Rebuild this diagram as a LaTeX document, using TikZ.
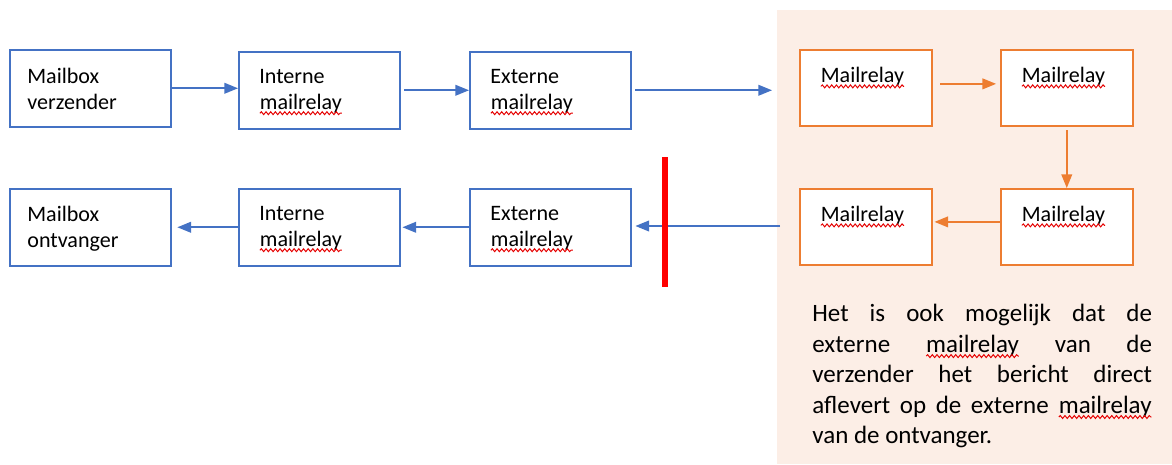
\documentclass[tikz,border=0pt]{standalone}
\usepackage{fontspec}
\setmainfont{Carlito}
\usetikzlibrary{arrows.meta,decorations.pathmorphing}

\definecolor{boxblue}{HTML}{4472C4}
\definecolor{boxorange}{HTML}{ED7D31}
\definecolor{panelfill}{HTML}{FCEEE6}

% red wavy underline
\newcommand{\squig}[1]{\tikz[baseline=(w.base)]{\node[inner sep=0pt,outer sep=0pt] (w) {#1};
  \draw[red!90!black,line width=0.5pt,decorate,decoration={snake,amplitude=0.75pt,segment length=2.4pt}]
  ([yshift=-2pt]w.base west) -- ([yshift=-2pt]w.base east);}}

\begin{document}
\begin{tikzpicture}[x=0.018cm,y=-0.018cm,
  bluebox/.style={draw=boxblue,line width=0.8pt,minimum width=2.898cm,minimum height=1.386cm,anchor=north west,inner sep=0pt},
  orbox/.style={draw=boxorange,line width=0.8pt,fill=white,minimum width=2.376cm,minimum height=1.368cm,anchor=north west,inner sep=0pt},
  boxtext/.style={anchor=north west,align=left,inner sep=0pt,font=\fontsize{11.3}{13.3}\selectfont},
  bluearrow/.style={draw=boxblue,line width=0.8pt,-{Triangle[length=7pt,width=5.5pt]}},
  orarrow/.style={draw=boxorange,line width=0.8pt,-{Triangle[length=7pt,width=5.5pt]}}]

\useasboundingbox (0,0) rectangle (1172,464);
\fill[panelfill] (777,10) rectangle (1172,464);

% sender side
\node[bluebox] (mv) at (9,49) {};
\node[bluebox] (im) at (238,51) {};
\node[bluebox] (em) at (469,51) {};
\node[boxtext] (mvt) at ([xshift=0.324cm,yshift=-0.34cm]mv.north west) {Mailbox\\verzender};
\node[boxtext] (imt) at ([xshift=0.378cm,yshift=-0.32cm]im.north west) {Interne\\\squig{mailrelay}};
\node[boxtext] (emt) at ([xshift=0.378cm,yshift=-0.32cm]em.north west) {Externe\\\squig{mailrelay}};

% receiver side
\node[bluebox] (mo) at (9,188) {};
\node[bluebox] (im2) at (238,188) {};
\node[bluebox] (em2) at (469,188) {};
\node[boxtext] (mot) at ([xshift=0.324cm,yshift=-0.32cm]mo.north west) {Mailbox\\ontvanger};
\node[boxtext] (im2t) at ([xshift=0.378cm,yshift=-0.32cm]im2.north west) {Interne\\\squig{mailrelay}};
\node[boxtext] (em2t) at ([xshift=0.378cm,yshift=-0.32cm]em2.north west) {Externe\\\squig{mailrelay}};

% internet relays
\node[orbox] (o1) at (799,49) {};
\node[orbox] (o2) at (1000,49) {};
\node[orbox] (o3) at (799,188) {};
\node[orbox] (o4) at (1000,188) {};
\node[boxtext] (o1t) at ([xshift=0.378cm,yshift=-0.32cm]o1.north west) {\squig{Mailrelay}};
\node[boxtext] (o2t) at ([xshift=0.378cm,yshift=-0.32cm]o2.north west) {\squig{Mailrelay}};
\node[boxtext] (o3t) at ([xshift=0.378cm,yshift=-0.32cm]o3.north west) {\squig{Mailrelay}};
\node[boxtext] (o4t) at ([xshift=0.378cm,yshift=-0.32cm]o4.north west) {\squig{Mailrelay}};

\coordinate (rin) at (772,90);
\coordinate (rout) at (780,226);

\draw[bluearrow] (mv.east) -- (mv.east -| im.west);
\draw[bluearrow] ([xshift=2pt]im.east) -- (im.east -| em.west);
\draw[bluearrow] ([xshift=2pt]em.east) -- (em.east -| rin);

\draw[orarrow] ([xshift=4pt,yshift=2pt]o1.east) -- ([xshift=-2pt,yshift=2pt]o2.west);
\draw[orarrow] ([yshift=-2pt]o2.south) -- (o4.north);
\draw[orarrow] ([yshift=2.5pt]o4.west) -- ([xshift=1pt,yshift=2.5pt]o3.east);

\draw[bluearrow] (rout) -- ([xshift=2pt]rout -| em2.east);
\draw[bluearrow] (em2.west) -- ([xshift=1pt]im2.east);
\draw[bluearrow] (im2.west) -- ([xshift=3pt]mo.east);

% blocked
\draw[red,line width=2.6pt] (665,157) -- (665,287);

\node[anchor=north west,inner sep=0pt,text width=174pt,align=justify,font=\fontsize{12.8}{15.6}\selectfont] (note) at (812,304)
  {Het is ook mogelijk dat de\linebreak externe \squig{mailrelay} van de\linebreak verzender het bericht direct\linebreak aflevert op de externe \squig{mailrelay}\linebreak van de ontvanger.};

\end{tikzpicture}
\end{document}
